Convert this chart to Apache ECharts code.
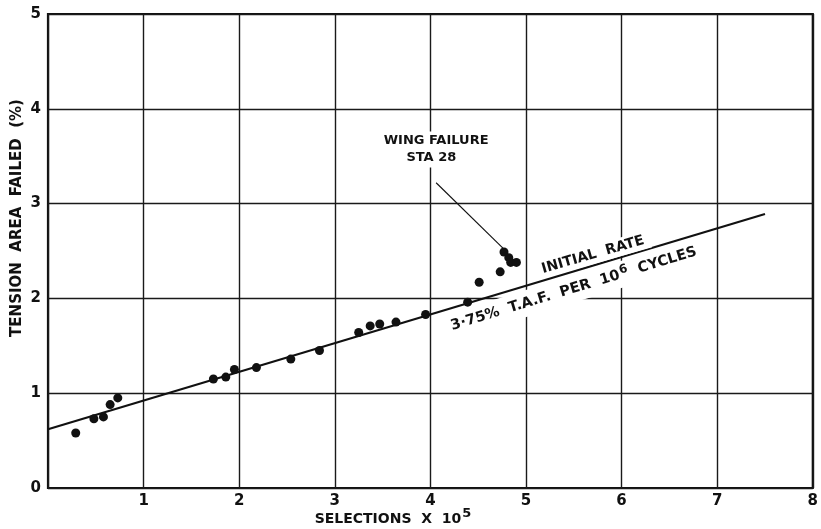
<!DOCTYPE html>
<html>
<head>
<meta charset="utf-8">
<script src="https://cdn.jsdelivr.net/npm/echarts@6/dist/echarts.min.js"></script>
<style>
  html, body { margin: 0; padding: 0; background: #fff; }
  #chart { width: 821px; height: 529px; }
</style>
</head>
<body>
<div id="chart"></div>
<script>
// Measured fatigue damage: selections (x 10^5) vs tension area failed (%)
const selections = [0.29, 0.48, 0.58, 0.65, 0.73, 1.73, 1.86, 1.95, 2.18, 2.54, 2.84,
                    3.25, 3.37, 3.47, 3.64, 3.95, 4.39, 4.51, 4.73, 4.77, 4.82, 4.84, 4.90];
const areaFailed = [0.58, 0.73, 0.75, 0.88, 0.95, 1.15, 1.17, 1.25, 1.27, 1.36, 1.45,
                    1.64, 1.71, 1.73, 1.75, 1.83, 1.96, 2.17, 2.28, 2.49, 2.43, 2.38, 2.38];

// Initial-rate trend line end points
const trendX = [0, 7.5];
const trendY = [0.62, 2.89];

// Leader line from the wing-failure note to the last reading
const leaderX = [4.06, 4.78];
const leaderY = [3.22, 2.51];

const xTicks = [0, 1, 2, 3, 4, 5, 6, 7, 8];
const yTicks = [0, 1, 2, 3, 4, 5];

const ink = '#111';
const font = 'DejaVu Sans';

const chart = echarts.init(document.getElementById('chart'), null, { renderer: 'canvas' });

const points = selections.map((x, i) => [x, areaFailed[i]]);
const trend = trendX.map((x, i) => [x, trendY[i]]);
const leader = leaderX.map((x, i) => [x, leaderY[i]]);

chart.setOption({
  animation: false,
  backgroundColor: '#fff',
  grid: { left: 48, right: 6, top: 14, bottom: 41, show: true, borderColor: ink, borderWidth: 2.2, backgroundColor: 'transparent' },
  xAxis: {
    type: 'value', min: xTicks[0], max: xTicks[xTicks.length - 1], interval: 1,
    axisLine: { show: false },
    axisTick: { show: false },
    splitLine: { show: true, lineStyle: { color: '#1a1a1a', width: 1.4 } },
    axisLabel: {
      color: ink, fontFamily: font, fontWeight: 'bold', fontSize: 15, margin: 6,
      formatter: v => (v === 0 ? '' : String(v))
    }
  },
  yAxis: {
    type: 'value', min: yTicks[0], max: yTicks[yTicks.length - 1], interval: 1,
    axisLine: { show: false },
    axisTick: { show: false },
    splitLine: { show: true, lineStyle: { color: '#1a1a1a', width: 1.4 } },
    axisLabel: { color: ink, fontFamily: font, fontWeight: 'bold', fontSize: 15, margin: 7 }
  },
  series: [
    {
      type: 'line', data: trend, symbol: 'none', z: 4,
      lineStyle: { color: ink, width: 2.2 }
    },
    {
      type: 'line', data: leader, symbol: 'none', z: 4,
      lineStyle: { color: ink, width: 1.1 }
    },
    {
      type: 'scatter', data: points, symbol: 'circle', symbolSize: 9, z: 5,
      itemStyle: { color: ink, opacity: 1 }
    }
  ]
});

// Notes placed at data positions
function at(x, y) { return chart.convertToPixel({ gridIndex: 0 }, [x, y]); }
const deg = Math.PI / 180;
const bold = { fontFamily: font, fontWeight: 'bold', fill: ink };

const notes = [
  { pos: [4.06, 3.66], text: 'WING FAILURE', size: 13 },
  { pos: [4.01, 3.48], text: 'STA 28', size: 13 }
];

const p1 = at(5.70, 2.46);
const p2 = at(5.50, 2.10);

chart.setOption({
  graphic: [
    ...notes.map(n => {
      const p = at(n.pos[0], n.pos[1]);
      return {
        type: 'text', x: p[0], y: p[1], z: 10,
        style: Object.assign({}, bold, {
          text: n.text, fontSize: n.size, align: 'center', verticalAlign: 'middle',
          backgroundColor: '#fff', padding: [3, 6]
        })
      };
    }),
    {
      type: 'text', x: p1[0], y: p1[1], rotation: 16 * deg, z: 10,
      style: Object.assign({}, bold, {
        text: 'INITIAL  RATE', fontSize: 14, align: 'center', verticalAlign: 'middle',
        backgroundColor: '#fff', padding: [2, 6]
      })
    },
    {
      type: 'text', x: p2[0], y: p2[1], rotation: 17 * deg, z: 10,
      style: Object.assign({}, bold, {
        text: '{a|3·75%  T.A.F.  PER  10}{s|6}{a|  CYCLES}',
        align: 'center', verticalAlign: 'middle',
        backgroundColor: '#fff', padding: [3, 6],
        rich: {
          a: { fontFamily: font, fontWeight: 'bold', fontSize: 14.5, fill: ink, color: ink },
          s: { fontFamily: font, fontWeight: 'bold', fontSize: 12, fill: ink, color: ink, verticalAlign: 'top', padding: [0, 0, 8, 1] }
        }
      })
    },
    {
      type: 'text', x: 393, y: 519, z: 10,
      style: Object.assign({}, bold, {
        text: '{a|SELECTIONS  X  10}{s|5}',
        align: 'center', verticalAlign: 'middle',
        rich: {
          a: { fontFamily: font, fontWeight: 'bold', fontSize: 14, fill: ink, color: ink },
          s: { fontFamily: font, fontWeight: 'bold', fontSize: 13, fill: ink, color: ink, verticalAlign: 'top', padding: [0, 0, 10, 1] }
        }
      })
    },
    {
      type: 'text', x: 17, y: 218, rotation: 90 * deg, z: 10,
      style: Object.assign({}, bold, {
        text: 'TENSION  AREA  FAILED  (%)', fontSize: 15, align: 'center', verticalAlign: 'middle'
      })
    }
  ]
});
</script>
</body>
</html>
